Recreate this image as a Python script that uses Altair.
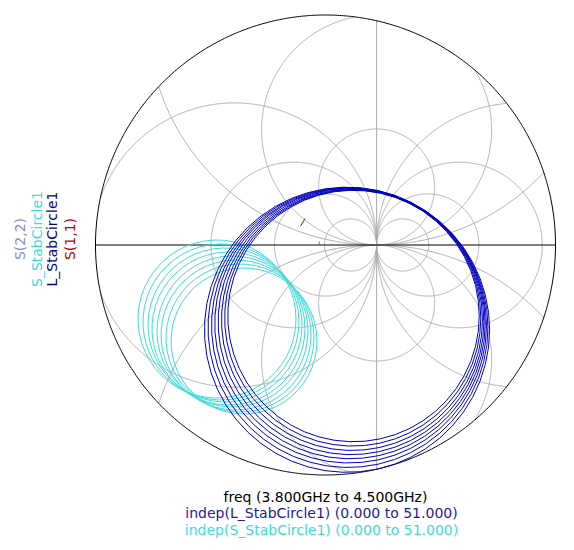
import numpy as np
import pandas as pd
import altair as alt

# ---------------- data (display units, outer boundary radius = 4.5) ----------------
outer_radius = 4.5
tangent_x = 1.0                       # point on the real axis where all grid circles meet
grid_radii_real_axis = [0.51, 1.0, 1.62, 2.78]   # circles centred on the real axis
grid_radii_vertical = [1.135, 2.25, 4.48]        # circles centred on the vertical line

freq_ghz = [3.8, 3.9, 4.0, 4.1, 4.2, 4.3, 4.4, 4.5]
indep_points = 52                      # indep 0 .. 51

l_center_x = [0.548, 0.533, 0.518, 0.499, 0.479, 0.460, 0.440, 0.421]
l_center_y = [-1.389, -1.428, -1.467, -1.502, -1.536, -1.575, -1.614, -1.658]
l_radius = [2.460, 2.506, 2.553, 2.600, 2.646, 2.690, 2.739, 2.790]

s_center_x = [-2.123, -2.045, -1.966, -1.898, -1.820, -1.751, -1.673, -1.595]
s_center_y = [-1.448, -1.507, -1.565, -1.634, -1.692, -1.761, -1.820, -1.878]
s_radius = [1.546, 1.526, 1.507, 1.497, 1.477, 1.467, 1.448, 1.428]

s11_x = [-0.489, -0.440, -0.401]
s11_y = [0.372, 0.450, 0.518]
s22_x = [-0.121, -0.121]
s22_y = [0.068, 0.010]

legend_labels = ["S(2,2)", "S_StabCircle1", "L_StabCircle1", "S(1,1)"]
legend_colors = ["#8c8cd4", "#3cdcdc", "#00008c", "#b40000"]
footer_lines = ["freq (3.800GHz to 4.500GHz)",
                "indep(L_StabCircle1) (0.000 to 51.000)",
                "indep(S_StabCircle1) (0.000 to 51.000)"]
footer_colors = ["#000000", "#1c1ca0", "#3cdcdc"]

# ---------------- geometry helpers ----------------
W, H = 558, 534
CX, CY = 317.5, 237.0
SCALE = 230.0 / outer_radius
xdom = [(0 - CX) / SCALE, (W - CX) / SCALE]
ydom = [(CY - H) / SCALE, CY / SCALE]


def clipped_circle(cx, cy, r, seg0, n=1441):
    t = np.linspace(0, 2 * np.pi, n)
    x = cx + r * np.cos(t)
    y = cy + r * np.sin(t)
    inside = x ** 2 + y ** 2 <= outer_radius ** 2 * 1.0001
    rows, seg, cur = [], seg0, []
    for xi, yi, ok in zip(x, y, inside):
        if ok:
            cur.append((xi, yi))
        else:
            if len(cur) > 1:
                rows += [dict(seg=seg, i=k, x=a, y=b) for k, (a, b) in enumerate(cur)]
                seg += 1
            cur = []
    if len(cur) > 1:
        rows += [dict(seg=seg, i=k, x=a, y=b) for k, (a, b) in enumerate(cur)]
        seg += 1
    return rows, seg


grid_rows, sid = [], 0
for r in grid_radii_real_axis:
    for sign in (-1, 1):
        rows, sid = clipped_circle(tangent_x + sign * r, 0.0, r, sid)
        grid_rows += rows
for r in grid_radii_vertical:
    for sign in (-1, 1):
        rows, sid = clipped_circle(tangent_x, sign * r, r, sid)
        grid_rows += rows
half = np.sqrt(outer_radius ** 2 - tangent_x ** 2)
grid_rows += [dict(seg=sid, i=0, x=tangent_x, y=-half), dict(seg=sid, i=1, x=tangent_x, y=half)]
grid_df = pd.DataFrame(grid_rows)

axis_df = pd.DataFrame(dict(seg=[0, 0], i=[0, 1], x=[-outer_radius, outer_radius], y=[0.0, 0.0]))
to = np.linspace(0, 2 * np.pi, 721)
outer_df = pd.DataFrame(dict(seg=0, i=np.arange(len(to)),
                             x=outer_radius * np.cos(to), y=outer_radius * np.sin(to)))


def stab_df(cxs, cys, rs):
    rows = []
    tt = np.linspace(0, 2 * np.pi, indep_points)
    for k, (cx, cy, r) in enumerate(zip(cxs, cys, rs)):
        for j, t in enumerate(tt):
            rows.append(dict(seg=k, i=j, x=cx + r * np.cos(t), y=cy + r * np.sin(t)))
    return pd.DataFrame(rows)


l_df = stab_df(l_center_x, l_center_y, l_radius)
s_df = stab_df(s_center_x, s_center_y, s_radius)
s11_df = pd.DataFrame(dict(seg=0, i=range(len(s11_x)), x=s11_x, y=s11_y))
s22_df = pd.DataFrame(dict(seg=0, i=range(len(s22_x)), x=s22_x, y=s22_y))

xs = alt.Scale(domain=xdom, nice=False, zero=False)
ys = alt.Scale(domain=ydom, nice=False, zero=False)


def lines(df, color, width=1.0):
    return alt.Chart(df).mark_line(color=color, strokeWidth=width).encode(
        x=alt.X("x:Q", scale=xs, axis=None),
        y=alt.Y("y:Q", scale=ys, axis=None),
        detail="seg:N",
        order="i:Q",
    )


layers = [
    lines(grid_df, "#acacac"),
    lines(axis_df, "#000000"),
    lines(outer_df, "#000000"),
    lines(s_df, legend_colors[1]),
    lines(l_df, "#0000c0"),
    lines(s11_df, legend_colors[3]),
    lines(s22_df, "#6a6ac8"),
]

legend_x = [12.7, 30.3, 45.3, 62.7]
for lab, col, lx in zip(legend_labels, legend_colors, legend_x):
    layers.append(
        alt.Chart(pd.DataFrame({"t": [lab]})).mark_text(
            angle=270, align="center", baseline="middle", font="DejaVu Sans",
            fontSize=14, color=col
        ).encode(text="t:N", x=alt.value(lx), y=alt.value(231))
    )

footer_x = [317.5, 313.5, 313.5]
footer_y = [493.5, 510.0, 526.5]
for txt, col, fx, fy in zip(footer_lines, footer_colors, footer_x, footer_y):
    layers.append(
        alt.Chart(pd.DataFrame({"t": [txt]})).mark_text(
            align="center", baseline="alphabetic", font="DejaVu Sans",
            fontSize=14, color=col
        ).encode(text="t:N", x=alt.value(fx), y=alt.value(fy))
    )

chart = alt.layer(*layers).properties(
    width=W, height=H, padding=0,
    autosize=alt.AutoSizeParams(type="none"),
    background="white",
).configure_view(stroke=None)

chart.save("out.html", embed_options={"renderer": "svg", "actions": False})
